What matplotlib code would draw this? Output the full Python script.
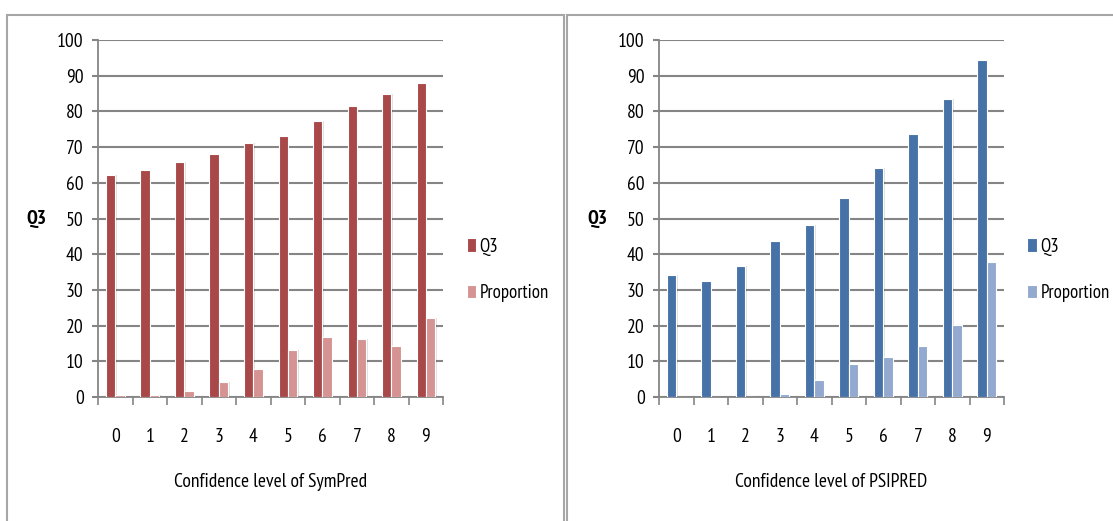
import numpy as np
import matplotlib
matplotlib.use("Agg")
import matplotlib.pyplot as plt
from matplotlib.patches import Rectangle

levels = ["0", "1", "2", "3", "4", "5", "6", "7", "8", "9"]
sympred_q3 = [62.3, 63.7, 65.8, 68.2, 71.2, 73.2, 77.2, 81.6, 85.0, 88.0]
sympred_prop = [0.7, 0.7, 1.8, 4.2, 7.8, 13.2, 16.7, 16.2, 14.2, 22.2]
psipred_q3 = [34.3, 32.4, 36.8, 43.8, 48.3, 55.8, 64.3, 73.7, 83.5, 94.4]
psipred_prop = [0.1, 0.1, 0.1, 0.8, 4.8, 9.2, 11.3, 14.2, 20.2, 37.9]

plt.rcParams['font.family'] = ['PT Sans Narrow', 'DejaVu Sans']
fs = 14

fig = plt.figure(figsize=(11.13, 5.21), dpi=100)
fig.patch.set_facecolor("white")

# panel frames
for x0, w in [(7, 557), (567, 560)]:
    fig.patches.append(Rectangle((x0 / 1113, -0.05), w / 1113, 1 - 15 / 521 + 0.05,
                                 transform=fig.transFigure, fill=False,
                                 edgecolor="#a6a6a6", lw=1.5))

panels = [
    (0.0881, sympred_q3, sympred_prop, "#a84848", "#d59393", "Confidence level of SymPred"),
    (0.5921, psipred_q3, psipred_prop, "#4672a8", "#93a9d0", "Confidence level of PSIPRED"),
]

x = np.arange(len(levels))
w = 0.27
for left, q3, prop, c1, c2, xlabel in panels:
    ax = fig.add_axes([left, 0.238, 0.310, 0.685])
    # soft shadow behind bars
    ax.bar(x - w / 2 + 0.04, q3, w, color="#000000", alpha=0.12, zorder=2)
    ax.bar(x + w / 2 + 0.04, prop, w, color="#000000", alpha=0.12, zorder=2)
    ax.bar(x - w / 2, q3, w, color=c1, edgecolor="white", lw=0.8, zorder=3, label="Q3")
    ax.bar(x + w / 2, prop, w, color=c2, edgecolor="white", lw=0.8, zorder=3, label="Proportion")
    ax.set_xlim(-0.5, 9.5)
    ax.set_ylim(0, 100)
    ax.set_yticks(range(0, 101, 10))
    ax.yaxis.grid(True, color="#858585", lw=1.5, zorder=0)
    ax.set_axisbelow(True)
    ax.set_xticks(np.arange(-0.5, 10, 1))
    ax.set_xticklabels([])
    ax.set_xticks(x, minor=True)
    ax.set_xticklabels(levels, minor=True, fontsize=fs)
    ax.tick_params(axis="x", which="minor", length=0, pad=22)
    ax.tick_params(axis="x", which="major", length=5.5, width=1.2, color="#858585")
    ax.tick_params(axis="y", length=4.3, width=1.5, color="#858585", labelsize=fs, pad=6)
    for s in ["top", "right"]:
        ax.spines[s].set_visible(False)
    for s in ["left", "bottom"]:
        ax.spines[s].set_color("#858585")
        ax.spines[s].set_linewidth(1.3)
    ax.set_xlabel(xlabel, fontsize=fs, labelpad=20)
    ax.set_ylabel("Q3", fontsize=fs, fontweight="semibold", rotation=0, va="center")
    ax.yaxis.set_label_coords(-0.178, 0.5)
    ax.legend(loc="center left", bbox_to_anchor=(1.068, 0.356), frameon=False,
              fontsize=13.5, handlelength=0.5, handleheight=0.75, handletextpad=0.2,
              labelspacing=1.5, borderpad=0, borderaxespad=0)

fig.savefig("out.png", dpi=100)
